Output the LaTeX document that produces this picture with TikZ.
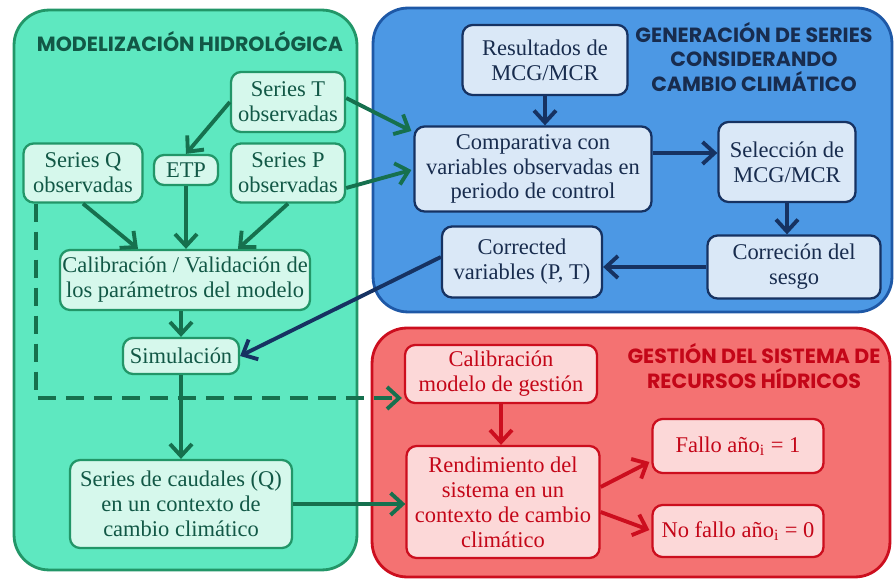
\documentclass[tikz,border=0pt]{standalone}
\usepackage{fontspec}
\setmainfont{Liberation Serif}
\newfontfamily\titlefont{Poppins}
\usetikzlibrary{arrows.meta,positioning,calc}
\definecolor{hidrofill}{RGB}{94,232,192}
\definecolor{hidroline}{RGB}{34,150,104}
\definecolor{hidrobox}{RGB}{214,248,236}
\definecolor{hidrotext}{RGB}{18,88,70}
\definecolor{hidroarrowc}{RGB}{22,112,78}
\definecolor{climfill}{RGB}{76,152,228}
\definecolor{climline}{RGB}{30,88,166}
\definecolor{climbox}{RGB}{218,232,247}
\definecolor{climtext}{RGB}{24,44,78}
\definecolor{climarrowc}{RGB}{22,50,98}
\definecolor{gestfill}{RGB}{244,114,114}
\definecolor{gestline}{RGB}{204,14,30}
\definecolor{gestbox}{RGB}{252,216,216}
\definecolor{gesttext}{RGB}{196,6,24}

\begin{document}
\begin{tikzpicture}[
  x=0.02cm, y=-0.02cm,
  font=\fontsize{12.8}{14.2}\selectfont,
  >={Straight Barb[length=2.4mm,width=4.4mm]},
  panel/.style={rectangle, rounded corners=7mm, line width=1.6pt},
  hidropanel/.style={panel, draw=hidroline, fill=hidrofill},
  climpanel/.style={panel, draw=climline, fill=climfill},
  gestpanel/.style={panel, draw=gestline, fill=gestfill},
  caja/.style={rectangle, rounded corners=2mm, line width=1.3pt, align=center,
    inner sep=1pt},
  hidro/.style={caja, draw=hidroline, fill=hidrobox, text=hidrotext},
  clima/.style={caja, draw=climarrowc, fill=climbox, text=climtext},
  gestion/.style={caja, draw=gestline, fill=gestbox, text=gesttext},
  titulo/.style={font=\titlefont\bfseries\fontsize{11.7}{14.2}\selectfont, align=center},
  hidroarrow/.style={->, line width=2.2pt, draw=hidroarrowc},
  climarrow/.style={->, line width=2.2pt, draw=climarrowc},
  gestarrow/.style={->, line width=2.2pt, draw=gestline}
]
  \useasboundingbox (0,0) rectangle (895,580);

  % Paneles de fondo.
  \node[hidropanel, minimum width=6.86cm, minimum height=11.2cm] (phidro) at (185.5,290) {};
  \node[climpanel, minimum width=10.38cm, minimum height=6.08cm] (pclima) at (632.5,160) {};
  \node[gestpanel, minimum width=10.36cm, minimum height=4.98cm] (pgest) at (631,452.5) {};

  \node[titulo, text=hidrotext] (thidro) at (190,42) {MODELIZACIÓN HIDROLÓGICA};
  \node[titulo, text=climtext] (tclima) at (754,57)
    {GENERACIÓN DE SERIES\\CONSIDERANDO\\CAMBIO CLIMÁTICO};
  \node[titulo, text=gesttext] (tgest) at (754,366)
    {GESTIÓN DEL SISTEMA DE\\RECURSOS HÍDRICOS};

  % Modelización hidrológica.
  \node[hidro, minimum width=2.28cm, minimum height=1.2cm] (seriest) at (288,102) {Series T\\observadas};
  \node[hidro, minimum width=2.38cm, minimum height=1.18cm] (seriesq) at (83,173) {Series Q\\observadas};
  \node[hidro, minimum width=1.28cm, minimum height=0.6cm] (etp) at (186,170) {ETP};
  \node[hidro, minimum width=2.28cm, minimum height=1.18cm] (seriesp) at (288,173) {Series P\\observadas};
  \node[hidro, minimum width=5cm, minimum height=1.2cm] (calib) at (185,280)
    {Calibración / Validación de\\los parámetros del modelo};
  \node[hidro, minimum width=2.32cm, minimum height=0.72cm] (simul) at (181,356) {Simulación};
  \node[hidro, minimum width=4.44cm, minimum height=1.76cm] (caudales) at (181,504)
    {Series de caudales (Q)\\en un contexto de\\cambio climático};

  % Generación de series.
  \node[clima, minimum width=3.3cm, minimum height=1.4cm] (resultados) at (545,60) {Resultados de\\MCG/MCR};
  \node[clima, minimum width=4.74cm, minimum height=1.7cm] (compara) at (533,169)
    {Comparativa con\\variables observadas en\\periodo de control};
  \node[clima, minimum width=2.74cm, minimum height=1.6cm] (seleccion) at (787,162) {Selección de\\MCG/MCR};
  \node[clima, minimum width=3.46cm, minimum height=1.26cm] (sesgo) at (794,267) {Correción del\\sesgo};
  \node[clima, minimum width=3.2cm, minimum height=1.42cm] (corrected) at (522,262) {Corrected\\variables (P, T)};

  % Gestión del sistema.
  \node[gestion, minimum width=3.84cm, minimum height=1.16cm] (calibgest) at (501,374)
    {Calibración\\modelo de gestión};
  \node[gestion, minimum width=3.86cm, minimum height=2.24cm] (rendim) at (503,502)
    {Rendimiento del\\sistema en un\\contexto de cambio\\climático};
  \node[gestion, minimum width=3.42cm, minimum height=1.08cm] (fallo) at (738,446) {Fallo año\textsubscript{i} = 1};
  \node[gestion, minimum width=3.42cm, minimum height=1.04cm] (nofallo) at (738,531) {No fallo año\textsubscript{i} = 0};

  % Flechas verdes.
  \draw[hidroarrow] (seriest.west) -- (etp.north);
  \draw[hidroarrow] (seriesq.south) -- ($(calib.north)+(-47,0)$);
  \draw[hidroarrow] (etp.south) -- (etp.south |- calib.north);
  \draw[hidroarrow] (seriesp.south) -- ($(calib.north)+(53,0)$);
  \draw[hidroarrow] (calib.south -| simul.north) -- (simul.north);
  \draw[hidroarrow] (simul.south) -- (caudales.north);
  \draw[hidroarrow] ($(seriest.east)+(0,-4)$) -- ($(compara.west)+(-2,-38)$);
  \draw[hidroarrow] ($(seriesp.east)+(0,15)$) -- ($(compara.west)+(-2,1)$);
  \draw[hidroarrow] (caudales.east) -- (caudales.east -| rendim.west);
  \draw[hidroarrow, dash pattern=on 0.36cm off 0.2cm]
    ($(seriesq.south west)+(14,0)$) |- ($(calibgest.west)+(-2,24)$);

  % Flechas azules.
  \coordinate (compsal) at ($(compara.east)+(0,-16)$);
  \draw[climarrow] (resultados.south) -- (resultados.south |- compara.north);
  \draw[climarrow] (compsal) -- (compsal -| seleccion.west);
  \draw[climarrow] (seleccion.south) -- (seleccion.south |- sesgo.north);
  \draw[climarrow] (sesgo.west) -- (sesgo.west -| corrected.east);
  \draw[climarrow] ($(corrected.west)+(0,-5)$) -- (simul.east);

  % Flechas rojas.
  \draw[gestarrow] (calibgest.south) -- (calibgest.south |- rendim.north);
  \draw[gestarrow] ($(rendim.east)+(0,-15)$) -- ($(fallo.west)+(-2,16)$);
  \draw[gestarrow] ($(rendim.east)+(0,10)$) -- ($(nofallo.west)+(-2,-1)$);
\end{tikzpicture}
\end{document}
